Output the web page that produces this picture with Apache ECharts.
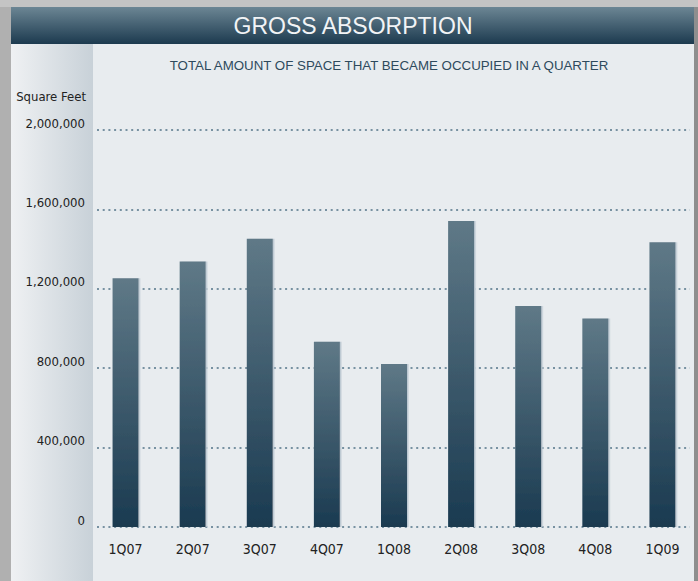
<!DOCTYPE html>
<html>
<head>
<meta charset="utf-8">
<style>
  html, body { margin: 0; padding: 0; background: #c4c4c4; }
  #chart { width: 698px; height: 581px; }
</style>
<script src="https://cdn.jsdelivr.net/npm/echarts@6/dist/echarts.min.js"></script>
</head>
<body>
<div id="chart"></div>
<script>
// Quarterly gross absorption, square feet
const quarters = ['1Q07', '2Q07', '3Q07', '4Q07', '1Q08', '2Q08', '3Q08', '4Q08', '1Q09'];
const grossAbsorption = [1253000, 1337000, 1452000, 933000, 821000, 1542000, 1113000, 1051000, 1434000];
const yTicks = [0, 400000, 800000, 1200000, 1600000, 2000000];

const titleText = 'GROSS ABSORPTION';
const subtitleText = 'TOTAL AMOUNT OF SPACE THAT BECAME OCCUPIED IN A QUARTER';
const unitText = 'Square Feet';

const narrow = '"Liberation Sans Narrow", "DejaVu Sans Condensed", "Roboto", sans-serif';
const yMax = yTicks[yTicks.length - 1];
const yStep = yTicks[1] - yTicks[0];

const chart = echarts.init(document.getElementById('chart'), null, { renderer: 'svg' });

chart.setOption({
  backgroundColor: '#c4c4c4',
  animation: false,
  graphic: [
    // outer frame strips
    { type: 'rect', z: -10, shape: { x: 0, y: 7, width: 11, height: 574 }, style: { fill: '#b0b0b0' } },
    { type: 'rect', z: -10, shape: { x: 694, y: 7, width: 4, height: 574 }, style: { fill: '#8e8e8e' } },
    // panel body
    { type: 'rect', z: -9, shape: { x: 11, y: 44, width: 683, height: 537 }, style: { fill: '#e8ecef' } },
    // shaded axis column
    { type: 'rect', z: -8, shape: { x: 11, y: 44, width: 82, height: 537 },
      style: { fill: new echarts.graphic.LinearGradient(0, 0, 1, 0, [
        { offset: 0, color: '#eff1f3' }, { offset: 1, color: '#c8d1d8' }]) } },
    // header band
    { type: 'rect', z: -8, shape: { x: 11, y: 7, width: 683, height: 37 },
      style: { fill: new echarts.graphic.LinearGradient(0, 0, 0, 1, [
        { offset: 0, color: '#6c8694' }, { offset: 1, color: '#1c3a4f' }]) } },
    { type: 'text', z: 5, x: 353, y: 26,
      style: { text: titleText, fill: '#f2f4f6', font: '23px "Liberation Sans", Arial, sans-serif',
        align: 'center', verticalAlign: 'middle' } },
    { type: 'text', z: 5, x: 389, y: 65,
      style: { text: subtitleText, fill: '#2e4a5d', font: '13.3px "Liberation Sans", Arial, sans-serif',
        align: 'center', verticalAlign: 'middle' } },
    { type: 'text', z: 5, x: 86, y: 96,
      style: { text: unitText, fill: '#222', font: '13px ' + narrow, align: 'right', verticalAlign: 'middle' } }
  ],
  grid: [
    { left: 97, right: 8, top: 130, bottom: 54 },
    { left: 92, right: 2, top: 130, bottom: 54 }
  ],
  xAxis: [
    { type: 'category', gridIndex: 0, data: quarters, show: false },
    { type: 'category', gridIndex: 1, data: quarters,
      axisLine: { show: false }, axisTick: { show: false },
      axisLabel: { color: '#222', fontSize: 14, fontFamily: narrow, margin: 15 } }
  ],
  yAxis: [
    { type: 'value', gridIndex: 0, min: 0, max: yMax, interval: yStep,
      axisLine: { show: false }, axisTick: { show: false },
      axisLabel: { color: '#222', fontSize: 13, fontFamily: narrow, margin: 12,
        verticalAlign: 'bottom', lineHeight: 14,
        formatter: v => v.toLocaleString('en-US') },
      splitLine: { show: true, lineStyle: { color: '#7791a1', width: 2, type: [2, 3.7] } } },
    { type: 'value', gridIndex: 1, min: 0, max: yMax, interval: yStep, show: false,
      splitLine: { show: false } }
  ],
  series: [
    {
      type: 'bar', xAxisIndex: 1, yAxisIndex: 1, data: grossAbsorption, barWidth: 26,
      itemStyle: {
        color: new echarts.graphic.LinearGradient(0, 0, 0, 1, [
          { offset: 0, color: '#5f7987' }, { offset: 1, color: '#1a3a50' }]),
        shadowColor: '#bcc8d2', shadowOffsetX: 1.5, shadowBlur: 0
      }
    }
  ]
});
</script>
</body>
</html>
